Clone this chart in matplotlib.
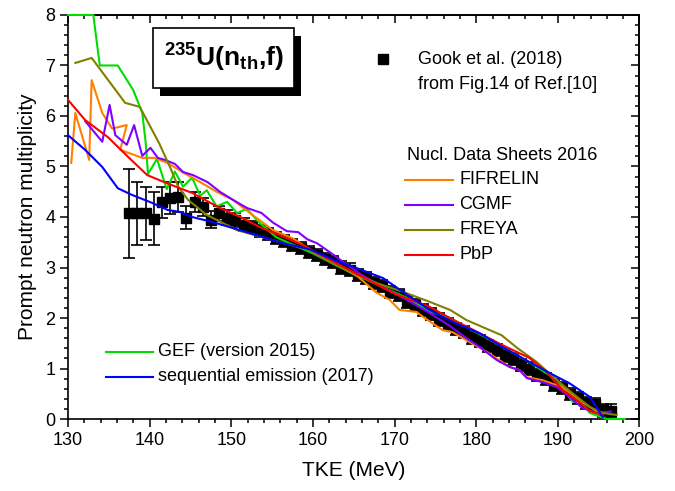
import matplotlib
matplotlib.use("Agg")
import matplotlib.pyplot as plt
from matplotlib.patches import Rectangle
from matplotlib.ticker import MultipleLocator

plt.rcParams["font.family"] = ["Liberation Sans", "DejaVu Sans"]
plt.rcParams["mathtext.fontset"] = "custom"
plt.rcParams["mathtext.rm"] = "Liberation Sans"
plt.rcParams["mathtext.bf"] = "Liberation Sans:bold"

# Gook et al. (2018) experimental points
gook_tke = [137.5, 138.5, 139.5, 140.5, 141.5, 142.5, 143.5, 144.5, 145.5, 146.5,
            147.5, 148.5, 149.5, 150.5, 151.5, 152.5, 153.5, 154.5, 155.5, 156.5,
            157.5, 158.5, 159.5, 160.5, 161.5, 162.5, 163.5, 164.5, 165.5, 166.5,
            167.5, 168.5, 169.5, 170.5, 171.5, 172.5, 173.5, 174.5, 175.5, 176.5,
            177.5, 178.5, 179.5, 180.5, 181.5, 182.5, 183.5, 184.5, 185.5, 186.5,
            187.5, 188.5, 189.5, 190.5, 191.5, 192.5, 193.5, 194.5, 195.5, 196.5]
gook_nu = [4.07, 4.07, 4.07, 3.97, 4.29, 4.37, 4.40, 3.99, 4.29, 4.20,
           3.95, 4.07, 3.99, 3.94, 3.85, 3.81, 3.73, 3.67, 3.59, 3.53,
           3.44, 3.39, 3.31, 3.25, 3.16, 3.11, 3.00, 2.96, 2.85, 2.79,
           2.69, 2.63, 2.52, 2.45, 2.32, 2.25, 2.15, 2.08, 1.97, 1.89,
           1.79, 1.72, 1.61, 1.54, 1.44, 1.37, 1.25, 1.18, 1.07, 1.00,
           0.88, 0.80, 0.68, 0.61, 0.49, 0.42, 0.32, 0.29, 0.17, 0.16]
gook_err = [0.88, 0.62, 0.52, 0.52, 0.30, 0.32, 0.30, 0.22, 0.20, 0.18,
            0.16, 0.15, 0.14, 0.13, 0.13, 0.12, 0.12, 0.12, 0.12, 0.12,
            0.12, 0.12, 0.12, 0.12, 0.12, 0.12, 0.12, 0.12, 0.12, 0.12,
            0.12, 0.12, 0.12, 0.12, 0.12, 0.12, 0.12, 0.12, 0.12, 0.12,
            0.12, 0.12, 0.12, 0.12, 0.12, 0.12, 0.12, 0.12, 0.12, 0.12,
            0.12, 0.12, 0.12, 0.12, 0.12, 0.12, 0.12, 0.13, 0.13, 0.13]

# Nucl. Data Sheets 2016 calculations
fifrelin_tke = [130.4, 130.9, 132.6, 132.9, 134.2, 135.4, 137.2, 136.4, 139.1, 140.6,
                142.2, 144.0, 146.2, 148.2, 150.2, 152.6, 155.1, 157.5, 160.0, 163.0,
                165.5, 167.8, 169.4, 170.6, 172.7, 173.5, 175.9, 177.1, 178.8, 181.3,
                184.1, 185.3, 186.2, 188.1, 190.6, 192.3, 193.9, 195.1]
fifrelin_nu = [5.07, 6.06, 5.13, 6.71, 6.06, 5.75, 5.82, 5.33, 5.17, 5.17,
               5.07, 4.89, 4.69, 4.50, 4.34, 4.04, 3.74, 3.58, 3.32, 3.05,
               2.82, 2.50, 2.36, 2.16, 2.12, 2.02, 1.76, 1.72, 1.56, 1.33,
               1.03, 0.97, 0.83, 0.77, 0.63, 0.42, 0.24, 0.12]

cgmf_tke = [132.1, 134.2, 135.1, 135.8, 137.2, 138.1, 139.1, 140.1, 141.0, 141.9,
            143.1, 144.1, 145.3, 147.1, 148.6, 150.2, 151.9, 153.7, 155.1, 156.8,
            158.2, 159.3, 160.5, 162.1, 163.7, 166.0, 168.5, 171.5, 174.3, 176.8,
            178.8, 180.4, 182.5, 184.1, 185.3, 186.2, 188.1, 189.9, 191.4, 193.0,
            194.7, 196.5]
cgmf_nu = [5.90, 5.49, 6.22, 5.62, 5.43, 5.82, 5.21, 5.37, 5.17, 5.13,
           5.05, 4.89, 4.83, 4.69, 4.50, 4.34, 4.18, 4.08, 3.89, 3.72,
           3.70, 3.56, 3.48, 3.30, 3.11, 2.85, 2.62, 2.36, 2.10, 1.84,
           1.60, 1.43, 1.17, 1.03, 0.97, 0.81, 0.73, 0.63, 0.44, 0.22,
           0.12, 0.15]

freya_tke = [130.9, 132.9, 137.0, 138.8, 141.2, 142.6, 143.5, 144.7, 147.0, 150.7,
             155.1, 159.3, 162.0, 165.0, 168.0, 171.0, 174.3, 176.8, 178.8, 180.8,
             183.1, 185.0, 187.4, 189.9, 191.8, 193.9, 195.5, 197.2]
freya_nu = [7.05, 7.15, 6.26, 6.18, 5.45, 4.95, 4.60, 4.34, 4.04, 3.74,
            3.54, 3.36, 3.12, 2.88, 2.68, 2.52, 2.32, 2.16, 1.96, 1.82,
            1.66, 1.41, 1.13, 0.77, 0.51, 0.24, 0.12, 0.08]

pbp_tke = [130.0, 132.1, 134.9, 137.3, 139.7, 142.1, 145.3, 148.6, 151.1, 153.5,
           155.9, 158.8, 162.0, 166.0, 170.0, 174.3, 177.0, 180.4, 183.0, 186.5,
           188.5, 190.6, 192.5, 194.0, 195.5]
pbp_nu = [6.32, 5.92, 5.58, 5.20, 4.83, 4.67, 4.47, 4.18, 4.00, 3.80,
          3.64, 3.44, 3.16, 2.82, 2.48, 2.22, 1.98, 1.70, 1.48, 1.21,
          0.95, 0.57, 0.35, 0.15, 0.08]

# GEF and sequential emission
gef_tke = [130.0, 133.1, 133.9, 136.1, 138.0, 139.1, 139.5, 139.8, 140.9, 142.1,
           143.1, 144.1, 145.2, 146.2, 147.0, 148.2, 149.5, 150.7, 151.9, 153.5,
           155.5, 158.0, 160.0, 163.0, 166.0, 169.4, 171.5, 174.3, 176.8, 180.0,
           183.0, 186.5, 189.9, 191.8, 193.0, 193.9, 196.0, 198.2]
gef_nu = [8.00, 8.00, 7.00, 7.00, 6.51, 6.06, 5.50, 4.85, 5.15, 4.55,
          4.90, 4.60, 4.78, 4.42, 4.53, 4.21, 4.30, 4.08, 4.16, 3.88,
          3.60, 3.42, 3.28, 3.03, 2.80, 2.55, 2.40, 2.13, 2.00, 1.72,
          1.45, 1.13, 0.77, 0.34, 0.32, 0.12, 0.00, 0.00]

seq_tke = [130.0, 132.1, 134.2, 136.1, 137.8, 140.3, 142.2, 143.7, 145.2, 147.7,
           151.9, 155.9, 159.6, 163.0, 165.5, 168.6, 171.0, 174.3, 177.0, 180.4,
           183.5, 186.5, 189.0, 191.4, 193.9, 195.5]
seq_nu = [5.62, 5.33, 4.99, 4.57, 4.44, 4.28, 4.14, 4.10, 4.00, 3.90,
          3.70, 3.50, 3.36, 3.12, 2.98, 2.79, 2.52, 2.16, 1.93, 1.70,
          1.40, 1.13, 0.91, 0.71, 0.44, 0.04]

nds_curves = [
    ("FIFRELIN", fifrelin_tke, fifrelin_nu, "#ff8000"),
    ("CGMF", cgmf_tke, cgmf_nu, "#8000ff"),
    ("FREYA", freya_tke, freya_nu, "#808000"),
    ("PbP", pbp_tke, pbp_nu, "#ff0000"),
]
other_curves = [
    ("GEF (version 2015)", gef_tke, gef_nu, "#00dd00"),
    ("sequential emission (2017)", seq_tke, seq_nu, "#0000ff"),
]

fig = plt.figure(figsize=(6.75, 4.91), dpi=100)
ax = fig.add_axes([0.1007, 0.1466, 0.8467, 0.8229])

ax.errorbar(gook_tke, gook_nu, yerr=gook_err, fmt="s", color="black",
            ms=7, elinewidth=1.2, capsize=4, capthick=1.2, zorder=2)

for label, x, y, color in other_curves[:1] + nds_curves + other_curves[1:]:
    ax.plot(x, y, "-", color=color, lw=1.5, zorder=3, clip_on=False)

ax.set_xlim(130, 200)
ax.set_ylim(0, 8)
ax.xaxis.set_major_locator(MultipleLocator(10))
ax.xaxis.set_minor_locator(MultipleLocator(2))
ax.yaxis.set_major_locator(MultipleLocator(1))
ax.yaxis.set_minor_locator(MultipleLocator(0.2))
ax.tick_params(which="both", direction="out", width=1.1, labelsize=13)
ax.tick_params(which="major", length=5.5)
ax.tick_params(which="minor", length=3)
for spine in ax.spines.values():
    spine.set_linewidth(1.2)

# mirrored ticks on top and right point into the frame
secx = ax.secondary_xaxis("top")
secx.xaxis.set_major_locator(MultipleLocator(10))
secx.xaxis.set_minor_locator(MultipleLocator(2))
secy = ax.secondary_yaxis("right")
secy.yaxis.set_major_locator(MultipleLocator(1))
secy.yaxis.set_minor_locator(MultipleLocator(0.2))
for sec in (secx, secy):
    sec.tick_params(which="both", direction="in", width=1.1,
                    labeltop=False, labelright=False)
    sec.tick_params(which="major", length=5.5)
    sec.tick_params(which="minor", length=3)
    for spine in sec.spines.values():
        spine.set_linewidth(1.2)

ax.set_xlabel("TKE (MeV)", fontsize=15, labelpad=9)
ax.set_ylabel("Prompt neutron multiplicity", fontsize=15, labelpad=6)

# reaction label with drop shadow
ax.add_patch(Rectangle((0.161, 0.799), 0.246, 0.149, transform=ax.transAxes,
                       fc="black", ec="none", zorder=5))
ax.add_patch(Rectangle((0.149, 0.819), 0.246, 0.149, transform=ax.transAxes,
                       fc="white", ec="black", lw=1.2, zorder=6))
ax.text(0.272, 0.894, r"$\mathbf{^{235}U(n_{th}{,}f)}$", transform=ax.transAxes,
        ha="center", va="center", fontsize=19, zorder=7)

# legends
ax.plot([0.552], [0.891], "s", color="black", ms=7, transform=ax.transAxes,
        clip_on=False)
ax.text(0.612, 0.889, "Gook et al. (2018)", transform=ax.transAxes,
        va="center", fontsize=13)
ax.text(0.612, 0.827, "from Fig.14 of Ref.[10]", transform=ax.transAxes,
        va="center", fontsize=13)

ax.text(0.593, 0.653, "Nucl. Data Sheets 2016", transform=ax.transAxes,
        va="center", fontsize=13)
for i, (label, x, y, color) in enumerate(nds_curves):
    yy = 0.592 - i * 0.062
    ax.plot([0.589, 0.673], [yy, yy], color=color, lw=1.5,
            transform=ax.transAxes)
    ax.text(0.685, yy, label, transform=ax.transAxes, va="center", fontsize=13)

for i, (label, x, y, color) in enumerate(other_curves):
    yy = 0.166 - i * 0.062
    ax.plot([0.066, 0.149], [yy, yy], color=color, lw=1.5,
            transform=ax.transAxes)
    ax.text(0.158, yy, label, transform=ax.transAxes, va="center", fontsize=13)

fig.savefig("out.png", dpi=100)
